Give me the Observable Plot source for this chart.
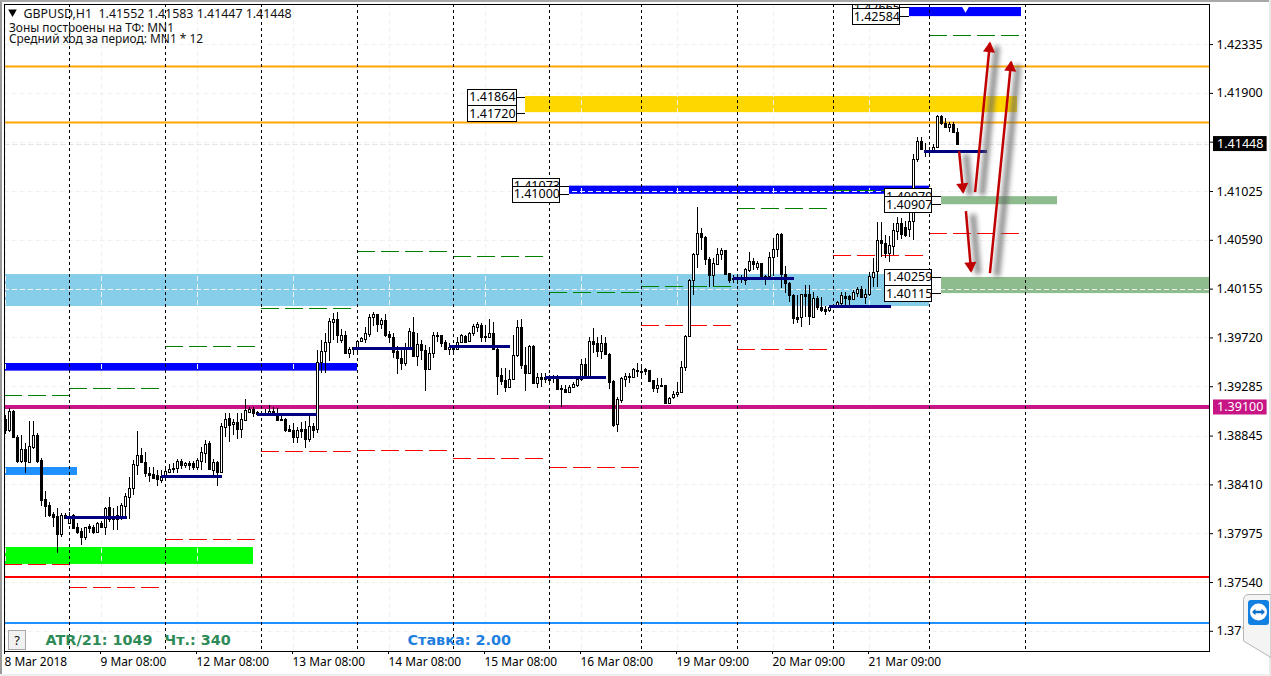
<!DOCTYPE html>
<html><head><meta charset="utf-8">
<style>
html,body{margin:0;padding:0;background:#fff;overflow:hidden}
#wrap{position:relative;width:1271px;height:676px;overflow:hidden}
#wrap svg{display:block;background:transparent}
[aria-label="shadow"]{filter:blur(2.5px)}
.edgeL{position:absolute;left:0;top:0;width:2px;height:676px;background:#9a9a9a}
.edgeT{position:absolute;left:0;top:0;width:1271px;height:2px;background:#a8a8a8}
.edgeR{position:absolute;right:0;top:0;width:2px;height:676px;background:#e8e8e8}
.edgeB{position:absolute;left:0;bottom:0;width:1271px;height:2px;background:#eee}
#help{position:absolute;left:8px;top:630px;width:18px;height:20px;box-sizing:border-box;border:1px solid #a8a8a8;background:#f1f1f1;font:13px "Noto Sans",sans-serif;text-align:center;line-height:19px;color:#111}
#tv{position:absolute;left:1243px;top:594px}
</style></head>
<body>
<div id="wrap"></div>
<script src="https://cdn.jsdelivr.net/npm/d3@7"></script>
<script src="https://cdn.jsdelivr.net/npm/@observablehq/plot@0.6"></script>
<script>
// Hourly GBPUSD candles, values in 1e-5 price points
const open=[138993,138895,139064,138833,138619,138726,138610,138743,138850,138628,
138280,138226,138146,138128,137968,138137,138066,138137,138030,137995,
137941,138039,138030,137986,138066,138030,138209,138128,138102,138128,
138218,138298,138378,138583,138672,138610,138512,138503,138494,138449,
138485,138521,138547,138556,138619,138583,138601,138601,138565,138619,
138690,138779,138538,138610,138521,138922,139002,138948,138966,138904,
138984,139055,139082,139055,139029,139047,139047,139064,139047,138993,
138993,138904,138895,138833,138904,138904,138815,138931,138904,139501,
139599,139679,139858,139884,139697,139742,139581,139635,139635,139688,
139706,139751,139902,139929,139840,139875,139751,139724,139599,139537,
139492,139635,139768,139555,139662,139608,139439,139581,139733,139742,
139679,139617,139635,139617,139679,139733,139688,139759,139813,139831,
139733,139724,139759,139617,139385,139341,139278,139350,139563,139813,
139474,139403,139644,139314,139367,139350,139367,139367,139367,139269,
139261,139234,139278,139296,139350,139483,139376,139688,139670,139599,
139670,139572,139332,138948,139162,139350,139367,139367,139421,139412,
139439,139430,139341,139269,139287,139296,139136,139189,139216,139234,
139457,139733,140232,140464,140651,140615,140419,140276,140375,140464,
140499,140294,140241,140241,140241,140232,140321,140401,140348,140383,
140268,140268,140437,140508,140642,140285,140205,140098,139902,139902,
140107,140107,139902,140071,139991,139973,139965,139991,140000,140027,
140089,140089,140063,140116,140152,140080,140107,140259,140312,140588,
140562,140472,140535,140669,140740,140704,140687,140758,141310,141471,
141382,141382,141382,141417,141693,141631,141595,141622,141552];
const high=[139029,139091,139073,138850,138850,138779,138975,138975,138868,138645,
138351,138253,138164,138200,138155,138155,138164,138146,138066,138022,
138030,138057,138048,138075,138084,138209,138298,138200,138218,138244,
138333,138476,138628,138886,138735,138699,138565,138565,138538,138538,
138574,138592,138601,138637,138637,138610,138619,138619,138645,138743,
138806,138797,138637,138619,138957,139047,139047,138993,139047,139047,
139171,139100,139100,139064,139064,139082,139118,139100,139091,139047,
139002,138940,138957,138922,138966,138975,139020,138957,139608,139697,
139759,139893,139938,139947,139795,139777,139635,139635,139697,139724,
139813,139929,139947,139929,139893,139929,139777,139759,139644,139608,
139670,139804,139902,139759,139697,139653,139635,139768,139768,139742,
139697,139670,139653,139724,139751,139742,139768,139840,139858,139849,
139831,139884,139858,139626,139448,139448,139430,139742,139875,139884,
139635,139653,139653,139403,139403,139403,139385,139385,139385,139296,
139296,139296,139323,139367,139528,139537,139724,139804,139724,139742,
139724,139581,139341,139189,139367,139403,139403,139448,139492,139474,
139448,139430,139341,139358,139358,139296,139189,139243,139323,139510,
139742,140241,140472,140883,140695,140624,140437,140428,140517,140517,
140499,140294,140276,140276,140276,140339,140481,140428,140401,140383,
140276,140481,140606,140651,140651,140357,140214,140107,140098,140107,
140187,140187,140125,140089,140080,140000,140009,140009,140045,140125,
140125,140098,140143,140170,140179,140152,140303,140428,140749,140749,
140633,140624,140740,140794,140785,140758,140856,141355,141507,141507,
141453,141417,141444,141702,141702,141676,141640,141640,141583];
const low=[138859,138877,138824,138601,138601,138512,138601,138726,138601,138218,
138120,138120,138030,137799,137941,138111,138066,138013,137968,137870,
137915,137977,137968,137977,138022,137959,138075,138004,138004,138093,
138128,138102,138316,138494,138601,138476,138432,138467,138396,138423,
138449,138512,138512,138512,138547,138556,138538,138538,138538,138538,
138601,138538,138494,138396,138512,138833,138788,138850,138815,138824,
138975,139047,139011,139020,139020,139020,139020,139020,138975,138975,
138877,138877,138779,138779,138824,138735,138788,138824,138868,139403,
139403,139510,139697,139670,139670,139572,139537,139563,139563,139679,
139670,139724,139822,139768,139795,139724,139670,139537,139394,139430,
139465,139608,139546,139465,139519,139243,139439,139537,139679,139635,
139608,139563,139563,139617,139670,139670,139679,139733,139768,139679,
139679,139724,139608,139207,139296,139234,139269,139341,139546,139439,
139243,139403,139314,139269,139278,139314,139296,139314,139261,139100,
139234,139234,139269,139278,139332,139358,139367,139581,139546,139528,
139563,139261,138922,138877,139136,139278,139314,139358,139367,139367,
139385,139323,139234,139225,139278,139127,139127,139171,139189,139225,
139421,139724,140098,140339,140499,140366,140170,140179,140366,140410,
140276,140205,140205,140196,140205,140187,140303,140321,140321,140250,
140187,140250,140268,140437,140161,140116,140036,139840,139849,139813,
139902,139831,139902,139965,139947,139920,139947,139982,139991,140000,
140000,140009,140063,140080,140080,140018,140089,140170,140170,140437,
140428,140392,140455,140588,140597,140615,140615,140588,141284,141391,
141328,141346,141373,141417,141613,141586,141551,141542,141447];
const close=[138895,139064,138833,138619,138726,138619,138752,138850,138619,138271,
138218,138137,138120,137968,138137,138111,138120,138022,137986,137941,
138030,138022,137986,138066,138030,138200,138102,138102,138137,138226,
138307,138378,138592,138672,138610,138512,138494,138467,138458,138485,
138530,138547,138556,138619,138583,138601,138583,138565,138628,138699,
138770,138547,138610,138521,138931,138993,138940,138966,138904,138993,
139073,139082,139047,139038,139047,139029,139064,139047,138984,138984,
138895,138886,138833,138895,138886,138815,138931,138895,139501,139599,
139679,139867,139884,139742,139742,139581,139617,139617,139688,139715,
139759,139902,139929,139840,139875,139742,139724,139590,139537,139492,
139635,139777,139555,139662,139608,139439,139581,139742,139742,139670,
139617,139635,139617,139679,139742,139679,139759,139822,139840,139724,
139724,139759,139617,139376,139332,139278,139350,139563,139813,139474,
139403,139644,139314,139367,139350,139367,139341,139358,139261,139261,
139234,139278,139305,139350,139483,139376,139688,139662,139599,139670,
139572,139323,138940,139171,139358,139376,139376,139439,139430,139421,
139421,139332,139269,139296,139296,139136,139180,139216,139234,139457,
139733,140232,140464,140651,140615,140419,140276,140383,140464,140499,
140285,140232,140250,140250,140250,140330,140401,140375,140383,140259,
140250,140437,140508,140642,140285,140205,140098,139893,139884,140107,
140089,139911,140071,139991,139965,139956,139991,140000,140036,140098,
140071,140063,140125,140152,140080,140107,140268,140303,140588,140562,
140472,140544,140678,140740,140642,140633,140758,141310,141471,141400,
141391,141373,141417,141693,141631,141595,141622,141551,141448];

const toPrice=v=>v/1e5;
const n=open.length;
const bars=d3.range(n);

// Axis ticks
const yTicks=[1.42335,1.419,1.41465,1.41025,1.4059,1.40155,1.3972,1.39285,1.38845,1.3841,1.37975,1.3754,1.37105];
const xTickBars=[0,24,48,72,96,120,144,168,192,216];
const xTickLabels=["8 Mar 2018","9 Mar 08:00","12 Mar 08:00","13 Mar 08:00","14 Mar 08:00","15 Mar 08:00","16 Mar 08:00","19 Mar 09:00","20 Mar 09:00","21 Mar 09:00"];
const daySeparators=[16,40,64,88,112,136,159,183,207,231,255];

// Zones: [start bar, end bar, upper price, lower price]
const zoneSky=[[-0.25,231,1.40285,1.40000]];
const zoneBlue=[[-0.25,88,1.39492,1.39424],[141,231,1.41073,1.41000],[226,254,1.42665,1.42584]];
const zoneDodger=[[-0.25,18,1.38565,1.38494]];
const zoneLime=[[-0.25,62,1.37852,1.37701]];
const zoneGold=[[130,253,1.41872,1.41728]];
const zoneSage=[[234,263,1.40979,1.40907],[234,301,1.40259,1.40115]];

// Horizontal levels
const orangeLevels=[1.42139,1.41640];
const magentaLevel=1.391;
const redLevel=1.37585;
const blueLevel=1.37175;
const lastPrice=1.41448;

// Average-range segments: [start bar, end bar, price]
const navySegments=[[15,30.4,1.3812],[39,54.2,1.38485],[63,78,1.39038],[87,102,1.39626],[111,126.2,1.39644],[135,150.2,1.39367],[182,197.2,1.4025],[206,221.4,1.4],[229.7,245.4,1.41382]];
const greenDashes=[[-0.25,16,1.39207],[16,38.5,1.39269],[40,62.5,1.39644],[64,86.5,1.39982],[88,110.5,1.4049],[112,134.5,1.40446],[136,158.5,1.40125],[159,181.5,1.40179],[183,205.5,1.40874],[207,229.5,1.41034],[231,253.5,1.42416]];
const redDashes=[[-0.25,16,1.37701],[16,38.5,1.37496],[40,62.5,1.37924],[64,86.5,1.38708],[88,110.5,1.38717],[112,134.5,1.38645],[136,158.5,1.38561],[159,181.5,1.39831],[183,205.5,1.39617],[207,229.5,1.40455],[231,253.5,1.40651]];

// Price boxes: [box start, box end, connector end, price] – later ones sit on top
const priceBoxes=[[115.6,127.7,130,1.41864],[115.6,127.7,130,1.4172],[126.7,138.6,141,1.41073],[126.7,138.6,141,1.41],
[219.8,231.6,234,1.40979],[219.8,231.6,234,1.40907],[219.8,231.6,234,1.40259],[219.8,231.6,234,1.40115],
[211.7,223.6,226,1.42665],[211.7,223.6,226,1.42584]];

// Forecast arrows: [bar from, price from, bar to, price to]
const arrows=[[238.4,1.41384,239.4,1.41019],[242.4,1.41019,246.1,1.42347],[240.1,1.4085,241.4,1.40315],[246.1,1.40297,251.4,1.42178]];

const W=1271,H=676,mL=4,mR=62,mT=4,mB=25;
const xDom=[-0.25,301],yDom=[1.36925,1.42692];
const pxBar=(W-mL-mR)/(xDom[1]-xDom[0]),pxPrice=(H-mT-mB)/(yDom[1]-yDom[0]);
const angle=a=>Math.atan2((a[2]-a[0])*pxBar,(a[3]-a[1])*pxPrice);
const headBack=5.4;

const FONT='"Noto Sans",sans-serif';
const zone=(data,fill)=>Plot.rect(data,{x1:d=>d[0],x2:d=>d[1],y1:d=>d[3],y2:d=>d[2],fill});
const note=(str,dx,dy,o)=>Plot.text([str],{text:d=>d,frameAnchor:"top-left",textAnchor:"start",lineAnchor:"middle",dx,dy,fontFamily:FONT,fontSize:11.9,fill:"#111",...o});
const dashed=(data,stroke)=>Plot.ruleY(data,{x1:d=>d[0],x2:d=>d[1],y:d=>d[2],stroke,strokeWidth:1,strokeDasharray:"18,6",shapeRendering:"crispEdges"});

const chart=Plot.plot({
  width:W,height:H,marginLeft:mL,marginRight:mR,marginTop:mT,marginBottom:mB,
  style:{fontFamily:FONT,fontSize:"12.5px",color:"#000",background:"transparent"},
  x:{domain:xDom},
  y:{domain:yDom},
  marks:[
    zone(zoneSky,"#87CEEB"),
    zone(zoneBlue,"#0000FF"),
    zone(zoneDodger,"#1E90FF"),
    zone(zoneLime,"#00FF00"),
    zone(zoneGold,"#FFD700"),
    zone(zoneSage,"#8FBC8F"),
    Plot.ruleY(yTicks,{stroke:"#f1f1f1",strokeDasharray:"5,3",shapeRendering:"crispEdges"}),
    Plot.ruleX(xTickBars,{stroke:"#f1f1f1",strokeDasharray:"5,3",shapeRendering:"crispEdges"}),
    Plot.ruleY([lastPrice],{stroke:"#e6e6e6",strokeDasharray:"6,2",shapeRendering:"crispEdges"}),
    Plot.ruleY(orangeLevels,{stroke:"#FFA500",strokeWidth:2}),
    dashed(greenDashes,"#008000"),
    dashed(redDashes,"#FF0000"),
    Plot.ruleY([magentaLevel],{stroke:"#C71585",strokeWidth:4,shapeRendering:"crispEdges"}),
    Plot.ruleY([redLevel],{stroke:"#FF0000",strokeWidth:2,shapeRendering:"crispEdges"}),
    Plot.ruleY([blueLevel],{stroke:"#1E90FF",strokeWidth:2,shapeRendering:"crispEdges"}),
    Plot.ruleX(daySeparators,{stroke:"#000",strokeDasharray:"3,3",shapeRendering:"crispEdges"}),
    // candles
    Plot.ruleX(bars,{x:i=>i,y1:i=>toPrice(low[i]),y2:i=>toPrice(high[i]),stroke:"#000",shapeRendering:"crispEdges"}),
    Plot.rect(bars,{x1:i=>i,x2:i=>i,y1:i=>toPrice(open[i]),y2:i=>toPrice(close[i]),insetLeft:-1,insetRight:-1,dx:0.5,dy:0.5,
      fill:i=>close[i]>=open[i]?"#fff":"#000",stroke:"#000",shapeRendering:"crispEdges"}),
    Plot.ruleY(navySegments,{x1:d=>d[0],x2:d=>d[1],y:d=>d[2],stroke:"#000080",strokeWidth:3,shapeRendering:"crispEdges"}),
    // notch on top zone
    Plot.dot([[240,1.42655]],{x:d=>d[0],y:d=>d[1],symbol:"triangle",r:2.6,fill:"#fff",rotate:180}),
    // price boxes
    Plot.ruleY(priceBoxes,{x1:d=>d[1],x2:d=>d[2],y:d=>d[3],stroke:"#000",shapeRendering:"crispEdges"}),
    ...priceBoxes.flatMap(d=>[
      Plot.rect([d],{x1:e=>e[0],x2:e=>e[1],y1:e=>e[3],y2:e=>e[3],insetTop:-8,insetBottom:-8,dy:0.5,dx:0.5,fill:"#fff",stroke:"#000",clip:"frame",shapeRendering:"crispEdges"}),
      Plot.text([d],{x:e=>e[0]+0.35,y:e=>e[3],text:e=>e[3].toFixed(5),textAnchor:"start",fill:"#000",fontSize:12.5,clip:"frame"})
    ]),
    // arrows
    Plot.link(arrows,{x1:d=>d[0],y1:d=>d[1],x2:d=>d[2],y2:d=>d[3],stroke:"#666",strokeOpacity:0.75,strokeWidth:6,dx:7,dy:3,ariaLabel:()=>"shadow"}),
    Plot.link(arrows,{x1:d=>d[0],y1:d=>d[1],x2:d=>d[2],y2:d=>d[3],stroke:"#C00000",strokeWidth:2.5}),
    Plot.dot(arrows,{x:d=>d[2]-Math.sin(angle(d))*headBack/pxBar,y:d=>d[3]-Math.cos(angle(d))*headBack/pxPrice,symbol:"triangle",r:4.5,fill:"#C00000",rotate:d=>angle(d)*180/Math.PI}),
    // frame and axes
    Plot.frame({stroke:"#000"}),
    Plot.axisX(xTickBars,{anchor:"bottom",tickSize:3,tickPadding:3,textAnchor:"start",dx:-1,label:null,tickFormat:d=>xTickLabels[xTickBars.indexOf(d)],fontSize:11.9}),
    Plot.axisY(yTicks,{anchor:"right",tickSize:3,tickPadding:4,label:null,tickFormat:d=>d.toFixed(5),fontSize:12.5}),
    // right-hand tags
    Plot.rect([[lastPrice,"#000"],[magentaLevel,"#C71585"]],{x1:302,x2:315.4,y1:d=>d[0],y2:d=>d[0],insetTop:-7.5,insetBottom:-7.5,fill:d=>d[1]}),
    Plot.text([lastPrice,magentaLevel],{x:302.9,y:d=>d,text:d=>d.toFixed(5),textAnchor:"start",fill:"#fff",fontSize:12.5}),
    // header and footer notes
    Plot.dot([0],{frameAnchor:"top-left",dx:8,dy:7.5,symbol:"triangle",r:3.2,fill:"#000",rotate:180}),
    note("GBPUSD,H1  1.41552 1.41583 1.41447 1.41448",19,10,{style:"white-space:pre",fontSize:12.4}),
    note("Зоны построены на ТФ: MN1",4.5,24),
    note("Средний ход за период: MN1 * 12",4.5,35),
    Plot.text(["ATR/21: 1049"],{text:d=>d,frameAnchor:"bottom-left",textAnchor:"start",lineAnchor:"middle",dx:41,dy:-11,fontFamily:"DejaVu Sans",fontWeight:"bold",fontSize:14.4,fill:"#2E8B57"}),
    Plot.text(["Чт.: 340"],{text:d=>d,frameAnchor:"bottom-left",textAnchor:"start",lineAnchor:"middle",dx:160,dy:-11,fontFamily:"DejaVu Sans",fontWeight:"bold",fontSize:14.4,fill:"#2E8B57"}),
    Plot.text(["Ставка: 2.00"],{text:d=>d,frameAnchor:"bottom-left",textAnchor:"start",lineAnchor:"middle",dx:403,dy:-11,fontFamily:"DejaVu Sans",fontWeight:"bold",fontSize:14.4,fill:"#1E7FE0"})
  ]
});
const wrap=document.getElementById("wrap");
wrap.appendChild(chart);
wrap.insertAdjacentHTML("beforeend",`
<div class="edgeL"></div><div class="edgeT"></div><div class="edgeR"></div><div class="edgeB"></div>
<div id="help">?</div>
<svg id="tv" width="28" height="66" viewBox="0 0 28 66">
<path d="M28 0.5H6a5 5 0 0 0 -5.5 5V47L28 63.5Z" fill="#f4f4f4" stroke="#b5b5b5"/>
<rect x="5" y="6" width="21" height="25" rx="3" fill="#1280e0"/>
<circle cx="15.5" cy="18" r="8.5" fill="#fff"/>
<path d="M9 18l3.5-3.2v2h6v-2l3.5 3.2-3.5 3.2v-2h-6v2z" fill="#0e6fc8"/>
</svg>`);
</script>
</body></html>
